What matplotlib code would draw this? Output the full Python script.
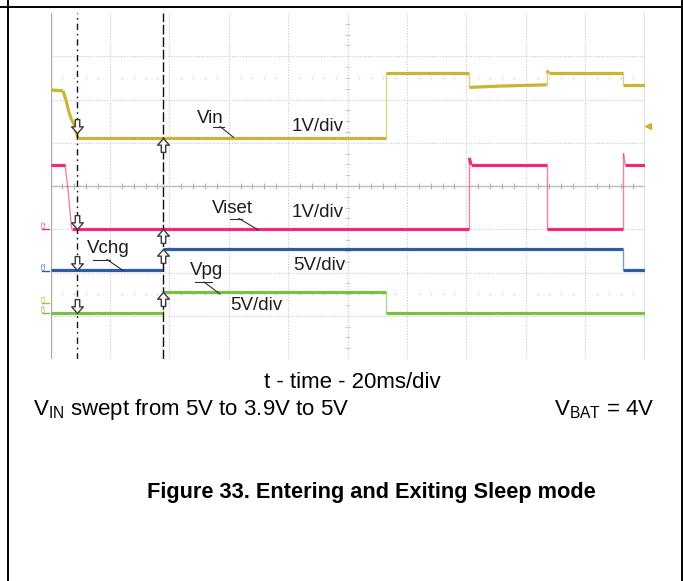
import numpy as np
import matplotlib
matplotlib.use("Agg")
import matplotlib.pyplot as plt
import matplotlib.transforms as mtransforms
from matplotlib.path import Path
from matplotlib.collections import LineCollection
from matplotlib import font_manager

# ---------------- data (time in ms, 20 ms/div; level in screen divisions) ----------------
vin_t = [0, 4.2, 5.2, 6.2, 7.1, 7.9, 9.3, 113, 113, 141, 141, 151.4, 167.1, 167.1, 167.8, 192.9, 192.9, 200]
vin_v = [6.22, 6.20, 5.99, 5.71, 5.53, 5.43, 5.10, 5.10, 6.61, 6.61, 6.28, 6.31, 6.34, 6.67, 6.61, 6.61, 6.34, 6.34]

viset_t = [0, 4.9, 5.9, 7.1, 141, 141, 141.6, 167.1, 167.1, 192.9, 192.9, 193.5, 200]
viset_v = [4.49, 4.49, 3.91, 3.01, 3.01, 4.65, 4.49, 4.49, 3.01, 3.01, 4.76, 4.49, 4.49]

vchg_t = [0, 38, 38, 192.9, 192.9, 200]
vchg_v = [2.06, 2.06, 2.55, 2.55, 2.06, 2.06]

vpg_t = [0, 38, 38, 113, 113, 200]
vpg_v = [1.06, 1.06, 1.54, 1.54, 1.06, 1.06]

cursor_t = [8.8, 38.0]
trigger_level = 5.38

trace_names = ["Vin", "Viset", "Vchg", "Vpg"]
trace_scales = ["1V/div", "1V/div", "5V/div", "5V/div"]
colors = {"Vin": "#c9b530", "Viset": "#ee2a7b", "Vchg": "#2d5ba8", "Vpg": "#7bc043"}

W, H = 683, 581
fig = plt.figure(figsize=(W / 100, H / 100), dpi=100)
pxt = mtransforms.Affine2D().scale(1 / W, -1 / H).translate(0, 1) + fig.transFigure

def has_font(name):
    try:
        font_manager.findfont(name, fallback_to_default=False)
        return True
    except Exception:
        return False

narrow = "Liberation Sans Narrow" if has_font("Liberation Sans Narrow") else None
plt.rcParams["font.family"] = ["Liberation Sans", "DejaVu Sans"]
plt.rcParams["mathtext.fontset"] = "custom"
plt.rcParams["mathtext.rm"] = "Liberation Sans"
plt.rcParams["mathtext.it"] = "Liberation Sans:italic"
plt.rcParams["mathtext.bf"] = "Liberation Sans:bold"

# graticule axes
gx0, gx1, gy0, gy1 = 50.5, 644.5, 13.0, 359.0
ax = fig.add_axes([gx0 / W, 1 - gy1 / H, (gx1 - gx0) / W, (gy1 - gy0) / H])
ax.set_xlim(0, 200)
ax.set_ylim(0, 8)
ax.axis("off")

gcol = "#c8c8c8"
for k in range(1, 10):
    ax.axvline(20 * k, color=gcol, lw=0.8, ls=(0, (1, 1.5)), zorder=1)
for k in range(1, 8):
    if k == 4:
        ax.axhline(k, color="#bcbcbc", lw=1.0, zorder=1)
    else:
        ax.axhline(k, color=gcol, lw=0.8, ls=(0, (1, 1.5)), zorder=1)
ax.axvline(0, color="#a8a8a8", lw=0.9, zorder=1)
ax.axvline(200, color="#d4d4d4", lw=1.8, zorder=1)

# center-line minor ticks
tk = [t for t in np.arange(4, 200, 4) if abs(t % 20) > 1e-6]
ax.vlines(tk, 4 - 0.06, 4 + 0.06, color="#b4b4b4", lw=0.8, zorder=1)
yk = [y for y in np.arange(0.25, 8, 0.25) if abs(y - round(y)) > 1e-6]
ax.hlines(yk, 100 - 0.8, 100 + 0.8, color="#cccccc", lw=0.8, zorder=1)
# rise-time dot rows
ax.plot(tk, [1.5] * len(tk), ls="none", marker="s", ms=1.0, color="#c4c4c4", mec="none", zorder=1)
ax.plot(tk, [6.5] * len(tk), ls="none", marker="s", ms=1.0, color="#c4c4c4", mec="none", zorder=1)

# traces
def draw_trace(t, v, c):
    t = np.asarray(t, float)
    v = np.asarray(v, float)
    segs_thick, segs_thin = [], []
    for i in range(len(t) - 1):
        dt = t[i + 1] - t[i]
        seg = [(t[i], v[i]), (t[i + 1], v[i + 1])]
        if dt > 0 and abs(v[i + 1] - v[i]) / dt < 0.4:
            segs_thick.append(seg)
        else:
            segs_thin.append(seg)
    ax.add_collection(LineCollection(segs_thin, colors=c, linewidths=1.0, alpha=0.6, zorder=3))
    ax.add_collection(LineCollection(segs_thick, colors=c, linewidths=2.3, zorder=4,
                                     capstyle="butt"))

traces = {"Vin": (vin_t, vin_v), "Viset": (viset_t, viset_v),
          "Vchg": (vchg_t, vchg_v), "Vpg": (vpg_t, vpg_v)}
for name in trace_names:
    draw_trace(*traces[name], colors[name])

# cursors
ax.axvline(cursor_t[0], color="#111111", lw=1.0, ls=(0, (4.5, 2.8, 1.2, 2.8)), zorder=5)
ax.axvline(cursor_t[1], color="#111111", lw=1.0, ls=(0, (7.0, 2.0)), zorder=5)

# hollow arrow markers at cursor/trace intersections (tip at the point)
down_verts = [(0, 0), (0.42, 0.48), (0.16, 0.48), (0.16, 1), (-0.16, 1), (-0.16, 0.48), (-0.42, 0.48), (0, 0)]
codes = [Path.MOVETO] + [Path.LINETO] * 6 + [Path.CLOSEPOLY]
down_path = Path(down_verts, codes)
up_path = Path([(x, -y) for x, y in down_verts], codes)
for name in trace_names:
    t, v = traces[name]
    yd = np.interp(cursor_t[0], t, v)
    ax.plot([cursor_t[0]], [yd], marker=down_path, ms=20, mfc="white", mec="#3a3a3a", mew=1.0,
            ls="none", zorder=6)
    yu = np.interp(cursor_t[1] + 1e-6, t, v)
    ax.plot([cursor_t[1]], [yu], marker=up_path, ms=20, mfc="white", mec="#3a3a3a", mew=1.0,
            ls="none", zorder=6)

# trigger marker
ax.plot([201.3], [trigger_level], marker="<", ms=5, color=colors["Vin"], clip_on=False, zorder=6)

# trace labels and leader lines (pixel positions)
lab_fs = 13.5
tcol = "#1e1e1e"
labels = [("Vin", 196.7, 123.3), ("1V/div", 291.7, 131.0),
          ("Viset", 211.7, 212.7), ("1V/div", 291.7, 217.3),
          ("Vchg", 86.7, 253.0), ("5V/div", 293.3, 270.0),
          ("Vpg", 190.0, 275.0), ("5V/div", 230.0, 310.0)]
for s, x, y in labels:
    fig.text(x, y, s, transform=pxt, fontsize=lab_fs, color=tcol, ha="left", va="baseline", zorder=10)

leaders = [
    [(213, 126.5), (224, 126.5)], [(220, 126.5), (233.5, 137.3)],
    [(230, 218.5), (242, 218.5)], [(239, 218.5), (258.3, 230)],
    [(93.3, 259.5), (110, 259.5)], [(107, 259.5), (123.3, 270.7)],
    [(195, 282), (212, 282)], [(204, 282), (220, 294)],
]
for seg in leaders:
    (x0, y0), (x1, y1) = seg
    fig.add_artist(plt.Line2D([x0, x1], [y0, y1], transform=pxt, color="#303030", lw=0.8, zorder=10))

# channel ground markers
chmarks = [("C2", "Viset", 224, 229), ("C3", "Vchg", 266, 270.5), ("C1", "Vin", 298.5, 303), ("C4", "Vpg", 308.5, 313)]
for s, name, ty, ly in chmarks:
    fig.text(44.5, ty, s, transform=pxt, fontsize=4.5, color=colors[name], ha="center", va="center",
             rotation=90)
    fig.add_artist(plt.Line2D([41.5, 49], [ly, ly], transform=pxt, color=colors[name], lw=1.0))

# bottom texts
fig.text(352.5, 388, "t - time - 20ms/div", transform=pxt, fontsize=16, ha="center", va="baseline",
         color="black")
fig.text(33, 415.5, r"V$_{\mathrm{IN}}$ swept from 5V to 3.9V to 5V", transform=pxt, fontsize=16,
         ha="left", va="baseline", color="black")
fig.text(654, 415.5, r"V$_{\mathrm{BAT}}$ = 4V", transform=pxt, fontsize=16,
         ha="right", va="baseline", color="black")
if narrow:
    fig.text(371.5, 498, "Figure 33. Entering and Exiting Sleep mode", transform=pxt, fontsize=19,
             family=[narrow, "Liberation Sans"], weight="bold", ha="center", va="baseline", color="black")
else:
    fig.text(371.5, 498, "Figure 33. Entering and Exiting Sleep mode", transform=pxt, fontsize=15.7,
             weight="bold", ha="center", va="baseline", color="black")

# page frame
for (x0, y0), (x1, y1) in [((8, 0), (8, H)), ((681.5, 0), (681.5, H)), ((0, 6.5), (W, 6.5))]:
    fig.add_artist(plt.Line2D([x0, x1], [y0, y1], transform=pxt, color="black", lw=1.4))

fig.savefig("out.png", dpi=100)
